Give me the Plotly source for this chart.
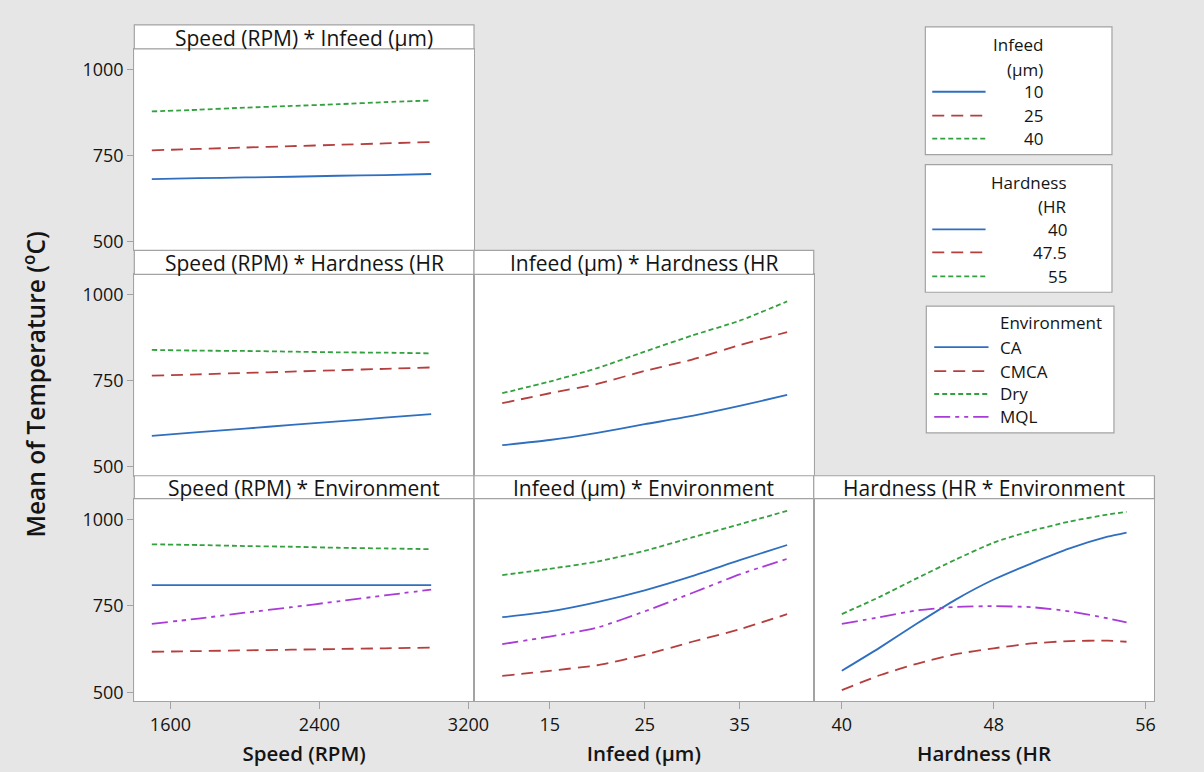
import plotly.graph_objects as go

# ---- data -------------------------------------------------------------
speed = [1500, 1750, 2000, 2250, 2500, 2750, 3000]
infeed = [10, 15, 20, 25, 30, 35, 40]
hardness = [40, 42, 44, 46, 48, 50, 52, 54, 55]

infeed_levels = ["10", "25", "40"]
hardness_levels = ["40", "47.5", "55"]
environments = ["CA", "CMCA", "Dry", "MQL"]

# Speed (RPM) * Infeed (um)
speed_infeed_10 = [681, 684, 686, 688, 691, 693, 696]
speed_infeed_25 = [765, 769, 773, 777, 781, 785, 789]
speed_infeed_40 = [878, 883, 889, 894, 899, 905, 910]

# Speed (RPM) * Hardness
speed_hard_40 = [590, 601, 611, 622, 632, 643, 653]
speed_hard_475 = [765, 769, 773, 777, 781, 785, 789]
speed_hard_55 = [840, 838, 837, 835, 833, 832, 830]

# Speed (RPM) * Environment
speed_env_ca = [810, 810, 810, 810, 810, 810, 810]
speed_env_cmca = [617, 619, 621, 623, 625, 627, 629]
speed_env_dry = [928, 926, 923, 921, 918, 916, 914]
speed_env_mql = [698, 713, 730, 746, 763, 780, 797]

# Infeed (um) * Hardness
infeed_hard_40 = [563, 578, 599, 624, 648, 677, 709]
infeed_hard_475 = [685, 714, 741, 779, 812, 854, 892]
infeed_hard_55 = [714, 748, 787, 835, 882, 925, 981]

# Infeed (um) * Environment
infeed_env_ca = [717, 734, 761, 795, 836, 882, 926]
infeed_env_cmca = [547, 562, 578, 608, 646, 682, 726]
infeed_env_dry = [839, 857, 878, 909, 948, 986, 1025]
infeed_env_mql = [639, 661, 687, 734, 787, 841, 886]

# Hardness * Environment
hard_env_ca = [562, 629, 700, 768, 826, 873, 916, 950, 962]
hard_env_cmca = [506, 549, 583, 610, 627, 641, 648, 649, 646]
hard_env_dry = [726, 776, 831, 884, 933, 967, 994, 1014, 1022]
hard_env_mql = [698, 717, 737, 747, 749, 746, 734, 714, 702]

speed_ticks = [1600, 2400, 3200]
infeed_ticks = [15, 25, 35]
hardness_ticks = [40, 48, 56]
temp_ticks = [500, 750, 1000]

# ---- styling ----------------------------------------------------------
W, H = 1204, 772
FONT = "Open Sans"
TEXT = "#141414"
BORDER = "#a3a3a3"
BG = "#e6e6e6"
LW = 1.8

STYLES = [
    dict(color="#2f6fc0", dash="solid"),
    dict(color="#b53f3f", dash="12px,7px"),
    dict(color="#35a03f", dash="5px,3px"),
    dict(color="#a93bd6", dash="16px,5px,4px,5px,4px,5px"),
]


def fx(p):
    return p / W


def fy(p):
    return 1 - p / H


cols = [(136, 480), (480, 824), (824, 1169)]
plot_rows = [(49, 251), (275, 477), (500, 703)]
strip_rows = [(25, 49), (251, 275), (477, 500)]
x_ranges = [[1406, 3230], [7.03, 42.8], [38.52, 56.47]]
x_ticks = [speed_ticks, infeed_ticks, hardness_ticks]
x_titles = ["Speed (RPM)", "Infeed (μm)", "Hardness (HR"]
y_range = [474, 1060]

panels = [
    (0, 0, "Speed (RPM) * Infeed (μm)", speed,
     [speed_infeed_10, speed_infeed_25, speed_infeed_40], infeed_levels),
    (1, 0, "Speed (RPM) * Hardness (HR", speed,
     [speed_hard_40, speed_hard_475, speed_hard_55], hardness_levels),
    (1, 1, "Infeed (μm) * Hardness (HR", infeed,
     [infeed_hard_40, infeed_hard_475, infeed_hard_55], hardness_levels),
    (2, 0, "Speed (RPM) * Environment", speed,
     [speed_env_ca, speed_env_cmca, speed_env_dry, speed_env_mql], environments),
    (2, 1, "Infeed (μm) * Environment", infeed,
     [infeed_env_ca, infeed_env_cmca, infeed_env_dry, infeed_env_mql], environments),
    (2, 2, "Hardness (HR * Environment", hardness,
     [hard_env_ca, hard_env_cmca, hard_env_dry, hard_env_mql], environments),
]

fig = go.Figure()
shapes = []
annotations = []
layout = {}

for i, (r, c, title, xs, series, names) in enumerate(panels, start=1):
    suffix = "" if i == 1 else str(i)
    for k, (ys, name) in enumerate(zip(series, names)):
        st = STYLES[k]
        fig.add_trace(go.Scatter(
            x=xs, y=ys, mode="lines", name=name, showlegend=False,
            line=dict(color=st["color"], dash=st["dash"], width=LW,
                      shape="spline", smoothing=0.6),
            xaxis="x" + suffix, yaxis="y" + suffix,
        ))
    x0, x1 = cols[c]
    y0, y1 = plot_rows[r]
    bottom = r == 2
    left = c == 0
    xa = dict(
        domain=[fx(x0), fx(x1)], range=x_ranges[c], anchor="y" + suffix,
        showline=True, mirror=True, linecolor=BORDER, linewidth=1.2,
        showgrid=False, zeroline=False,
        ticks="outside" if bottom else "", ticklen=7, tickcolor=BORDER,
        tickvals=x_ticks[c], showticklabels=bottom,
        tickfont=dict(family=FONT, size=18, color=TEXT),
    )
    if bottom:
        xa["title"] = dict(text=x_titles[c], standoff=11,
                           font=dict(family=FONT, size=20.5, color=TEXT, weight=600))
    ya = dict(
        domain=[fy(y1), fy(y0)], range=y_range, anchor="x" + suffix,
        showline=True, mirror=True, linecolor=BORDER, linewidth=1.2,
        showgrid=False, zeroline=False,
        ticks="outside" if left else "", ticklen=6, tickcolor=BORDER,
        tickvals=temp_ticks, showticklabels=left,
        tickfont=dict(family=FONT, size=18, color=TEXT),
    )
    layout["xaxis" + suffix] = xa
    layout["yaxis" + suffix] = ya

    # title strip above each panel
    s0, s1 = strip_rows[r]
    shapes.append(dict(type="rect", xref="paper", yref="paper",
                       x0=fx(x0), x1=fx(x1), y0=fy(s1), y1=fy(s0),
                       fillcolor="white", line=dict(color=BORDER, width=1.2)))
    annotations.append(dict(text=title, xref="paper", yref="paper",
                            x=fx((x0 + x1) / 2), y=fy((s0 + s1) / 2 + 1),
                            xanchor="center", yanchor="middle", showarrow=False,
                            font=dict(family=FONT, size=21, color=TEXT)))

# y axis title shared by all rows
annotations.append(dict(text="Mean of Temperature (<sup>o</sup>C)", xref="paper", yref="paper",
                        x=fx(34), y=fy(386), textangle=-90, showarrow=False,
                        xanchor="center", yanchor="middle",
                        font=dict(family=FONT, size=24.5, color=TEXT, weight=600)))

# ---- legend boxes --------------------------------------------------------
legend_boxes = [
    dict(box=(937, 1126, 27, 155), titles=[("Infeed", 45), ("(μm)", 70)],
         items=infeed_levels, item_y=[92, 116, 139], line_x=(944, 998),
         text_x=1058, align="right"),
    dict(box=(937, 1126, 165, 293), titles=[("Hardness", 183), ("(HR", 207)],
         items=hardness_levels, item_y=[230, 253, 277], line_x=(944, 998),
         text_x=1082, align="right"),
    dict(box=(938, 1128, 307, 434), titles=[("Environment", 323)],
         items=environments, item_y=[348, 372, 395, 418], line_x=(946, 1001),
         text_x=1011, align="left"),
]

for lb in legend_boxes:
    bx0, bx1, by0, by1 = lb["box"]
    shapes.append(dict(type="rect", xref="paper", yref="paper",
                       x0=fx(bx0), x1=fx(bx1), y0=fy(by1), y1=fy(by0),
                       fillcolor="white", line=dict(color=BORDER, width=1.2)))
    anchor = "right" if lb["align"] == "right" else "left"
    for txt, ty in lb["titles"]:
        annotations.append(dict(text=txt, xref="paper", yref="paper",
                                x=fx(lb["text_x"]), y=fy(ty), xanchor=anchor,
                                yanchor="middle", showarrow=False,
                                font=dict(family=FONT, size=17, color=TEXT)))
    for k, (name, iy) in enumerate(zip(lb["items"], lb["item_y"])):
        st = STYLES[k]
        shapes.append(dict(type="line", xref="paper", yref="paper",
                           x0=fx(lb["line_x"][0]), x1=fx(lb["line_x"][1]),
                           y0=fy(iy), y1=fy(iy),
                           line=dict(color=st["color"], dash=st["dash"], width=LW)))
        annotations.append(dict(text=name, xref="paper", yref="paper",
                                x=fx(lb["text_x"]), y=fy(iy), xanchor=anchor,
                                yanchor="middle", showarrow=False,
                                font=dict(family=FONT, size=17, color=TEXT)))

fig.update_layout(
    width=W, height=H,
    margin=dict(l=0, r=0, t=0, b=0),
    paper_bgcolor=BG, plot_bgcolor="white",
    showlegend=False,
    shapes=shapes, annotations=annotations,
    **layout,
)

fig.write_html("out.html")
